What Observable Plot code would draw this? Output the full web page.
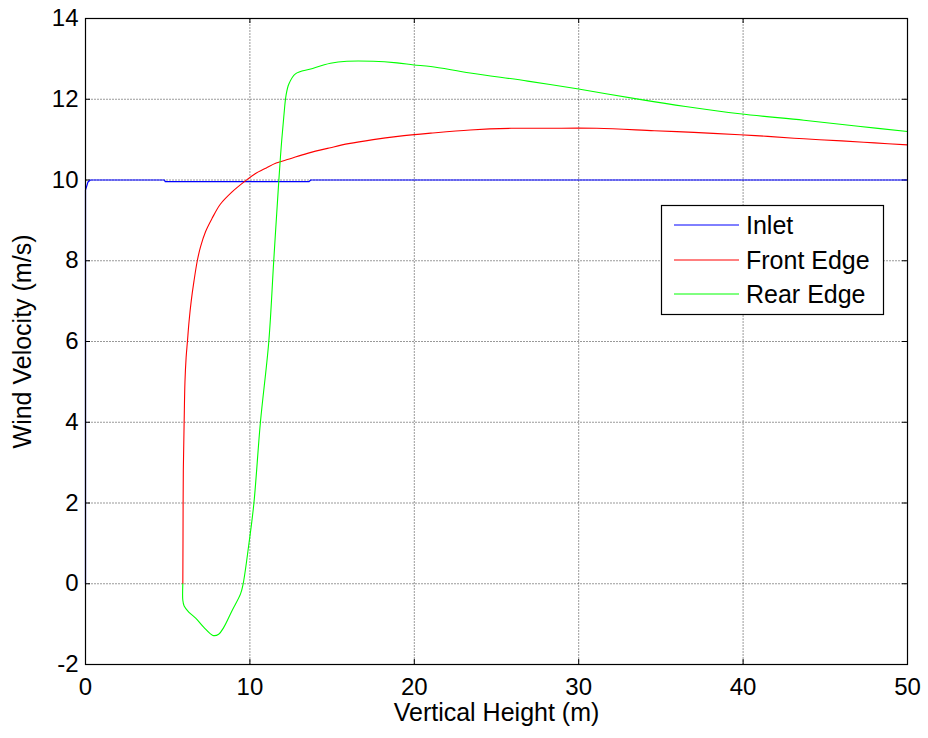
<!DOCTYPE html>
<html>
<head>
<meta charset="utf-8">
<script src="https://cdn.jsdelivr.net/npm/d3@7"></script>
<script src="https://cdn.jsdelivr.net/npm/@observablehq/plot@0.6"></script>
<style>
  html, body { margin: 0; padding: 0; background: #fff; }
  #chart { width: 928px; height: 738px; }
</style>
</head>
<body>
<div id="chart"></div>
<script>
// ---- data ----
const seriesNames = ["Inlet", "Front Edge", "Rear Edge"];
const seriesColors = ["#0000ff", "#ff0000", "#00ff00"];

const inletHeight   = [0, 0, 0.15, 0.3, 4.8, 4.85, 13.6, 13.7, 50];
const inletVelocity = [0, 9.75, 9.95, 10.0, 10.0, 9.96, 9.96, 10.0, 10.0];

const frontHeight   = [5.92, 5.93, 5.95, 6.0, 6.05, 6.12, 6.2, 6.3, 6.43, 6.6, 6.8, 7.0, 7.3, 7.7, 8.2, 8.9, 9.7, 10.3, 11.0, 11.6, 12.4, 13.5, 14.9, 16.0, 17.5, 19.0, 21.0, 23.4, 25.9, 28.0, 31.1, 34.6, 37.0, 39.8, 41.5, 43.7, 46.0, 48.0, 50.0];
const frontVelocity = [0, 1.0, 2.8, 4.0, 5.0, 5.6, 6.0, 6.5, 7.0, 7.5, 8.0, 8.35, 8.72, 9.05, 9.4, 9.7, 9.97, 10.15, 10.3, 10.42, 10.52, 10.66, 10.8, 10.9, 11.0, 11.08, 11.16, 11.24, 11.28, 11.28, 11.28, 11.22, 11.18, 11.12, 11.08, 11.02, 10.97, 10.92, 10.87];

const rearHeight   = [5.92, 5.92, 6.0, 6.28, 6.7, 7.2, 7.75, 8.1, 8.41, 8.92, 9.43, 9.59, 9.94, 10.24, 10.64, 11.15, 11.45, 11.76, 11.9, 12.06, 12.2, 12.37, 12.77, 13.7, 14.9, 15.9, 17.5, 18.95, 19.97, 21.0, 23.4, 26.9, 29.9, 33.8, 36.5, 39.8, 43.7, 47.0, 50.0];
const rearVelocity = [0, -0.41, -0.55, -0.70, -0.85, -1.08, -1.28, -1.25, -1.08, -0.66, -0.25, 0, 0.99, 1.98, 4.0, 6.0, 8.0, 9.99, 10.8, 11.56, 12.1, 12.38, 12.63, 12.75, 12.89, 12.94, 12.94, 12.9, 12.85, 12.81, 12.65, 12.45, 12.26, 11.99, 11.82, 11.64, 11.48, 11.33, 11.2];

const xTicks = [0, 10, 20, 30, 40, 50];
const yTicks = [-2, 0, 2, 4, 6, 8, 10, 12, 14];
const xLabel = "Vertical Height (m)";
const yLabel = "Wind Velocity (m/s)";

// ---- build tables ----
const toRows = (hs, vs) => hs.map((h, i) => ({h, v: vs[i]}));
const inlet = toRows(inletHeight, inletVelocity);
const front = toRows(frontHeight, frontVelocity);
const rear  = toRows(rearHeight, rearVelocity);

const W = 928, H = 738;
const mL = 85, mR = 21, mT = 18, mB = 74;
const pw = W - mL - mR, ph = H - mT - mB;
const font = "'Liberation Sans', Arial, sans-serif";
const fmt = d => String(d);

const svg = Plot.plot({
  width: W, height: H,
  marginLeft: mL, marginRight: mR, marginTop: mT, marginBottom: mB,
  style: {fontFamily: font, fontSize: "24px", background: "#fff", color: "#000", overflow: "visible"},
  x: {domain: [0, 50]},
  y: {domain: [-2, 14]},
  marks: [
    Plot.gridX(xTicks, {stroke: "#000", strokeOpacity: 0.4, strokeDasharray: "2,1"}),
    Plot.gridY(yTicks, {stroke: "#000", strokeOpacity: 0.4, strokeDasharray: "2,1"}),
    // inward tick marks on all four sides
    Plot.tickY(yTicks, {y: d => d, insetRight: pw - 5, stroke: "#000"}),
    Plot.tickY(yTicks, {y: d => d, insetLeft: pw - 5, stroke: "#000"}),
    Plot.tickX(xTicks, {x: d => d, insetTop: ph - 5, stroke: "#000"}),
    Plot.tickX(xTicks, {x: d => d, insetBottom: ph - 5, stroke: "#000"}),
    Plot.axisX(xTicks, {tickSize: 0, tickPadding: 13, fontSize: 24, tickFormat: fmt, label: xLabel, labelAnchor: "center", labelArrow: "none", labelOffset: 56}),
    Plot.axisY(yTicks, {tickSize: 0, tickPadding: 7, fontSize: 24, tickFormat: fmt, label: yLabel, labelAnchor: "center", labelArrow: "none", labelOffset: 72}),
    Plot.line(inlet, {x: "h", y: "v", stroke: seriesColors[0], strokeWidth: 1.2}),
    Plot.line(front, {x: "h", y: "v", stroke: seriesColors[1], strokeWidth: 1.1, curve: "catmull-rom"}),
    Plot.line(rear,  {x: "h", y: "v", stroke: seriesColors[2], strokeWidth: 1.1, curve: "catmull-rom"}),
    Plot.frame({stroke: "#000", strokeWidth: 1.2})
  ]
});

// axis title font size
d3.select(svg).selectAll("[aria-label='x-axis label'] text, [aria-label='y-axis label'] text").attr("font-size", 25);

// ---- legend (MATLAB-style box inside the axes) ----
const sel = d3.select(svg);
const lg = sel.append("g").attr("font-family", font).attr("font-size", 25).attr("text-anchor", "start");
lg.append("rect").attr("x", 661.5).attr("y", 205.5).attr("width", 222).attr("height", 109)
  .attr("fill", "#fff").attr("stroke", "#000").attr("stroke-width", 1.2);
const rowsY = [225, 260, 294];
seriesNames.forEach((name, i) => {
  lg.append("line").attr("x1", 674).attr("x2", 739).attr("y1", rowsY[i]).attr("y2", rowsY[i])
    .attr("stroke", seriesColors[i]).attr("stroke-width", 1);
  lg.append("text").attr("x", 746).attr("y", rowsY[i]).attr("dy", "0.35em")
    .attr("text-anchor", "start").attr("fill", "#000").text(name);
});

document.getElementById("chart").appendChild(svg);
</script>
</body>
</html>
